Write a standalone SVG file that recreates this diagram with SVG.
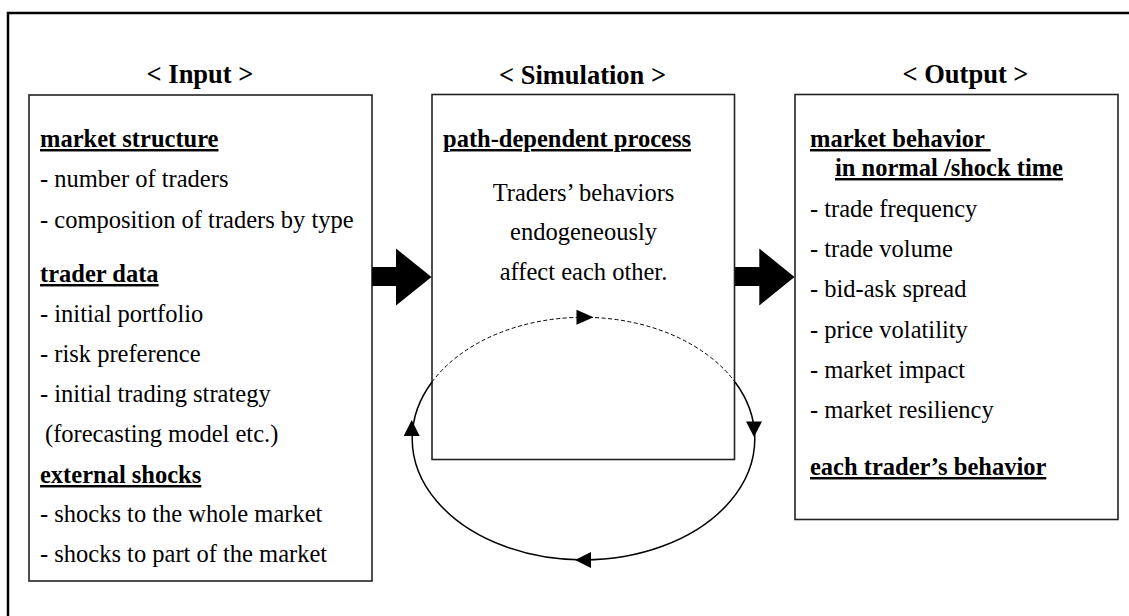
<svg xmlns="http://www.w3.org/2000/svg" width="1129" height="616" viewBox="0 0 1129 616">
<style>
text{font-family:'Liberation Serif','Times New Roman',serif;fill:#000;}
.t{font-size:24.5px;}
.h{font-size:24.5px;font-weight:bold;text-decoration:underline;white-space:pre;}
.ttl{font-size:26.5px;font-weight:bold;text-anchor:middle;}
.c{text-anchor:middle;}
.box{fill:#fff;stroke:#222;stroke-width:1.6;}
.frame{fill:none;stroke:#000;stroke-width:2.5;}
.loop{fill:none;stroke:#000;stroke-width:1.5;}
.dash{fill:none;stroke:#000;stroke-width:1;stroke-dasharray:4 2.5;}
.big{fill:#000;}
.ah{fill:#000;}
</style>
<rect width="1129" height="616" fill="#fff"/>
<path class="frame" d="M8,616 V13 H1129"/>

<g id="input">
<text class="ttl" x="200" y="83">&lt; Input &gt;</text>
<rect class="box" x="29" y="95" width="343" height="486"/>
<text class="h" x="40" y="147">market structure</text>
<text class="t" x="40" y="187">- number of traders</text>
<text class="t" x="40" y="228">- composition of traders by type</text>
<text class="h" x="40" y="282">trader data</text>
<text class="t" x="40" y="322">- initial portfolio</text>
<text class="t" x="40" y="362">- risk preference</text>
<text class="t" x="40" y="402">- initial trading strategy</text>
<text class="t" x="45" y="442">(forecasting model etc.)</text>
<text class="h" x="40" y="483">external shocks</text>
<text class="t" x="40" y="522">- shocks to the whole market</text>
<text class="t" x="40" y="562">- shocks to part of the market</text>
</g>

<g id="simulation">
<text class="ttl" x="582.5" y="84">&lt; Simulation &gt;</text>
<rect class="box" x="432" y="94.5" width="302.5" height="365"/>
<text class="h" x="443" y="147">path-dependent process</text>
<text class="t c" x="583.5" y="200.5">Traders’ behaviors</text>
<text class="t c" x="583.5" y="240">endogeneously</text>
<text class="t c" x="583.5" y="280">affect each other.</text>
</g>

<g id="output">
<text class="ttl" x="965.5" y="83">&lt; Output &gt;</text>
<rect class="box" x="795" y="94.5" width="323" height="425"/>
<text class="h" x="810" y="147">market behavior </text>
<text class="h" x="835" y="176">in normal /shock time</text>
<text class="t" x="810" y="216.5">- trade frequency</text>
<text class="t" x="810" y="256.5">- trade volume</text>
<text class="t" x="810" y="297">- bid-ask spread</text>
<text class="t" x="810" y="338">- price volatility</text>
<text class="t" x="810" y="378">- market impact</text>
<text class="t" x="810" y="418">- market resiliency</text>
<text class="h" x="810" y="475">each trader’s behavior</text>
</g>

<g id="connectors">
<path class="big" d="M372,267 H396 V248.5 L431.5,277 L396,305.5 V286 H372 Z"/>
<path class="big" d="M735,267 H759.3 V248.5 L794.5,277 L759.3,305.5 V286 H735 Z"/>
<path class="dash" d="M432,382 A171.3,121.3 0 0 1 735,382"/>
<path class="loop" d="M735,382 A171.3,121.3 0 1 1 432,382"/>
<polygon class="ah" points="593.5,317.3 576.5,309.8 576.5,324.8"/>
<polygon class="ah" points="746,421.5 762,421.5 754,437"/>
<polygon class="ah" points="575,560 591,552 591,568"/>
<polygon class="ah" points="411.7,420 403.7,436 419.7,436"/>
</g>
</svg>
